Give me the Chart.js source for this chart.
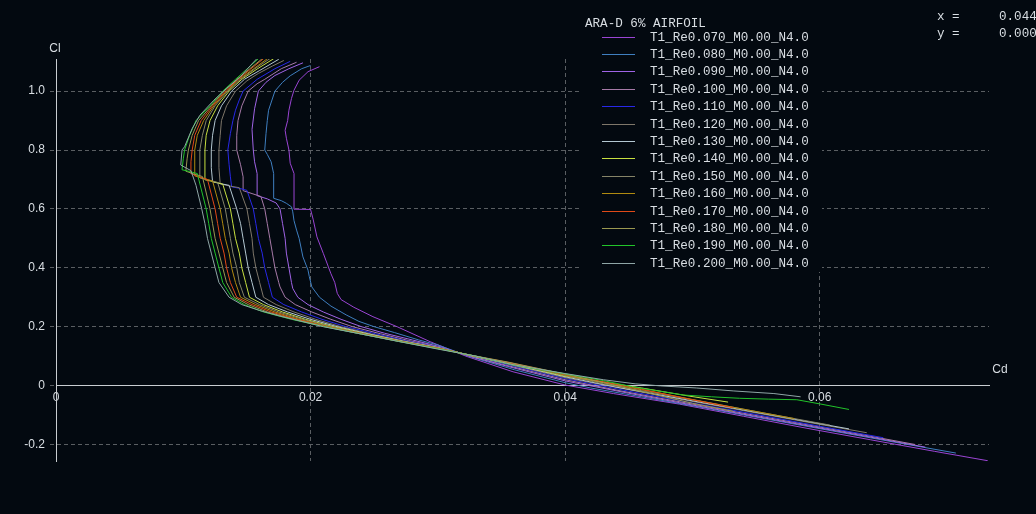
<!DOCTYPE html>
<html>
<head>
<meta charset="utf-8">
<script src="https://cdn.jsdelivr.net/npm/chart.js@4.4.1/dist/chart.umd.min.js"></script>
<style>
  html, body { margin: 0; padding: 0; background: #030910; }
  canvas { display: block; }
</style>
</head>
<body>
<canvas id="polar" width="1036" height="514"></canvas>
<script>
// ARA-D 6% airfoil, Cl versus Cd polars for a range of Reynolds numbers (millions)
const reynolds = ['0.070', '0.080', '0.090', '0.100', '0.110', '0.120', '0.130',
                  '0.140', '0.150', '0.160', '0.170', '0.180', '0.190', '0.200'];
const seriesLabels = reynolds.map(r => 'T1_Re' + r + '_M0.00_N4.0');
const seriesColors = ['#9b45d4', '#3f7fc0', '#a064e6', '#a77aa8', '#2828e8', '#7f776a', '#b4c8d2',
                      '#c8e040', '#868468', '#b08a10', '#e04a18', '#9a9850', '#22c42a', '#8fa6a6'];

const cdTicks = [0, 0.02, 0.04, 0.06];
const clTicks = [-0.2, 0, 0.2, 0.4, 0.6, 0.8, 1.0];

// each polar: [Cd, Cl] from the most negative angle of attack upwards
const polarRe070 = [[0.0732,-0.255],[0.0690,-0.223],[0.0640,-0.184],[0.0590,-0.145],[0.0540,-0.104],[0.0490,-0.063],[0.0438,-0.027],[0.0400,0.002],[0.0359,0.047],[0.0322,0.100],[0.0294,0.149],[0.0268,0.200],[0.0249,0.234],[0.0234,0.266],[0.0224,0.292],[0.0221,0.313],[0.0219,0.350],[0.0216,0.380],[0.0214,0.403],[0.0210,0.449],[0.0205,0.505],[0.0202,0.565],[0.0200,0.598],[0.0187,0.599],[0.0187,0.660],[0.0187,0.720],[0.0184,0.755],[0.0183,0.800],[0.0181,0.840],[0.0180,0.867],[0.0182,0.900],[0.0183,0.935],[0.0185,0.975],[0.0187,1.003],[0.0191,1.037],[0.0198,1.066],[0.0207,1.083]];
const polarRe080 = [[0.0707,-0.229],[0.0660,-0.193],[0.0610,-0.154],[0.0560,-0.115],[0.0510,-0.076],[0.0460,-0.038],[0.0420,-0.008],[0.0400,0.010],[0.0360,0.054],[0.0324,0.100],[0.0300,0.138],[0.0285,0.155],[0.0266,0.180],[0.0250,0.200],[0.0238,0.218],[0.0228,0.240],[0.0216,0.270],[0.0207,0.300],[0.0201,0.335],[0.0199,0.370],[0.0198,0.392],[0.0194,0.437],[0.0191,0.500],[0.0189,0.528],[0.0187,0.560],[0.0186,0.590],[0.0185,0.607],[0.0181,0.619],[0.0177,0.628],[0.0171,0.636],[0.0171,0.680],[0.0171,0.720],[0.0169,0.760],[0.0166,0.785],[0.0164,0.800],[0.0165,0.856],[0.0166,0.900],[0.0167,0.935],[0.0172,1.000],[0.0178,1.030],[0.0184,1.052],[0.0193,1.076],[0.0200,1.087]];
const polarRe090 = [[0.0683,-0.209],[0.0640,-0.175],[0.0590,-0.136],[0.0540,-0.097],[0.0490,-0.058],[0.0450,-0.026],[0.0400,0.016],[0.0355,0.065],[0.0325,0.100],[0.0300,0.134],[0.0280,0.155],[0.0258,0.178],[0.0240,0.200],[0.0224,0.225],[0.0210,0.250],[0.0198,0.275],[0.0190,0.300],[0.0186,0.330],[0.0185,0.350],[0.0183,0.400],[0.0181,0.450],[0.0180,0.500],[0.0178,0.550],[0.0176,0.600],[0.0173,0.620],[0.0166,0.634],[0.0158,0.645],[0.0158,0.680],[0.0158,0.720],[0.0156,0.760],[0.0155,0.800],[0.0154,0.870],[0.0156,0.940],[0.0159,1.000],[0.0165,1.030],[0.0172,1.053],[0.0183,1.076],[0.0194,1.096]];
const polarRe100 = [[0.0675,-0.200],[0.0630,-0.164],[0.0580,-0.125],[0.0530,-0.086],[0.0480,-0.047],[0.0440,-0.015],[0.0400,0.020],[0.0355,0.068],[0.0326,0.100],[0.0300,0.132],[0.0277,0.153],[0.0255,0.176],[0.0233,0.200],[0.0216,0.225],[0.0201,0.250],[0.0188,0.275],[0.0180,0.300],[0.0176,0.335],[0.0175,0.350],[0.0172,0.400],[0.0170,0.450],[0.0168,0.500],[0.0166,0.550],[0.0164,0.600],[0.0161,0.642],[0.0154,0.652],[0.0147,0.662],[0.0147,0.709],[0.0145,0.750],[0.0142,0.800],[0.0142,0.850],[0.0143,0.900],[0.0146,0.950],[0.0151,1.000],[0.0158,1.025],[0.0164,1.040],[0.0177,1.076],[0.0189,1.098]];
const polarRe110 = [[0.0650,-0.177],[0.0600,-0.138],[0.0550,-0.098],[0.0500,-0.059],[0.0450,-0.019],[0.0400,0.024],[0.0355,0.071],[0.0327,0.100],[0.0300,0.131],[0.0275,0.152],[0.0251,0.176],[0.0228,0.200],[0.0209,0.225],[0.0193,0.250],[0.0179,0.275],[0.0170,0.300],[0.0167,0.350],[0.0164,0.400],[0.0162,0.450],[0.0159,0.500],[0.0157,0.550],[0.0155,0.600],[0.0150,0.663],[0.0144,0.670],[0.0138,0.675],[0.0137,0.709],[0.0136,0.750],[0.0135,0.800],[0.0137,0.856],[0.0139,0.900],[0.0141,0.935],[0.0144,0.970],[0.0147,1.000],[0.0158,1.040],[0.0172,1.076],[0.0184,1.101]];
const polarRe120 = [[0.0637,-0.160],[0.0590,-0.124],[0.0540,-0.085],[0.0490,-0.046],[0.0450,-0.014],[0.0400,0.027],[0.0355,0.073],[0.0327,0.100],[0.0300,0.130],[0.0274,0.151],[0.0248,0.175],[0.0224,0.200],[0.0204,0.225],[0.0187,0.250],[0.0173,0.275],[0.0163,0.300],[0.0160,0.350],[0.0157,0.400],[0.0155,0.450],[0.0154,0.500],[0.0152,0.550],[0.0150,0.600],[0.0144,0.672],[0.0136,0.678],[0.0129,0.685],[0.0128,0.740],[0.0128,0.800],[0.0129,0.850],[0.0130,0.900],[0.0134,0.950],[0.0141,1.000],[0.0150,1.035],[0.0159,1.060],[0.0170,1.085],[0.0179,1.104]];
const polarRe130 = [[0.0623,-0.147],[0.0580,-0.114],[0.0530,-0.075],[0.0480,-0.036],[0.0440,-0.005],[0.0400,0.030],[0.0355,0.075],[0.0328,0.100],[0.0300,0.129],[0.0273,0.150],[0.0246,0.175],[0.0221,0.200],[0.0200,0.225],[0.0182,0.250],[0.0167,0.275],[0.0157,0.300],[0.0154,0.350],[0.0151,0.400],[0.0149,0.450],[0.0147,0.500],[0.0145,0.550],[0.0142,0.600],[0.0136,0.680],[0.0129,0.686],[0.0123,0.692],[0.0122,0.740],[0.0122,0.800],[0.0123,0.850],[0.0125,0.900],[0.0130,0.950],[0.0138,1.000],[0.0148,1.040],[0.0160,1.070],[0.0175,1.108]];
const polarRe140 = [[0.0528,-0.056],[0.0498,-0.036],[0.0460,-0.008],[0.0430,0.012],[0.0400,0.032],[0.0355,0.076],[0.0328,0.100],[0.0300,0.128],[0.0272,0.150],[0.0244,0.175],[0.0218,0.200],[0.0196,0.225],[0.0178,0.250],[0.0163,0.275],[0.0152,0.300],[0.0149,0.350],[0.0146,0.400],[0.0144,0.450],[0.0141,0.500],[0.0139,0.550],[0.0137,0.600],[0.0131,0.684],[0.0124,0.692],[0.0117,0.699],[0.0117,0.750],[0.0117,0.800],[0.0118,0.850],[0.0121,0.900],[0.0127,0.950],[0.0136,1.000],[0.0146,1.040],[0.0158,1.075],[0.0171,1.110]];
const polarRe150 = [[0.0608,-0.134],[0.0570,-0.104],[0.0520,-0.064],[0.0470,-0.025],[0.0430,0.006],[0.0400,0.034],[0.0355,0.077],[0.0329,0.100],[0.0300,0.128],[0.0271,0.150],[0.0243,0.175],[0.0216,0.200],[0.0194,0.225],[0.0175,0.250],[0.0160,0.275],[0.0148,0.300],[0.0144,0.350],[0.0142,0.400],[0.0139,0.450],[0.0137,0.500],[0.0135,0.550],[0.0133,0.600],[0.0127,0.690],[0.0120,0.698],[0.0113,0.705],[0.0113,0.750],[0.0113,0.800],[0.0115,0.850],[0.0118,0.900],[0.0125,0.950],[0.0135,1.000],[0.0145,1.040],[0.0156,1.075],[0.0168,1.110]];
const polarRe160 = [[0.0580,-0.112],[0.0540,-0.080],[0.0500,-0.047],[0.0460,-0.014],[0.0430,0.010],[0.0400,0.036],[0.0355,0.078],[0.0329,0.100],[0.0300,0.127],[0.0271,0.150],[0.0242,0.175],[0.0214,0.200],[0.0191,0.225],[0.0172,0.250],[0.0157,0.275],[0.0145,0.300],[0.0141,0.350],[0.0138,0.400],[0.0136,0.450],[0.0133,0.500],[0.0131,0.550],[0.0129,0.600],[0.0123,0.695],[0.0116,0.703],[0.0109,0.712],[0.0109,0.760],[0.0109,0.800],[0.0111,0.850],[0.0116,0.900],[0.0124,0.950],[0.0134,1.000],[0.0144,1.040],[0.0155,1.075],[0.0166,1.110]];
const polarRe170 = [[0.0532,-0.075],[0.0500,-0.048],[0.0460,-0.012],[0.0430,0.013],[0.0400,0.038],[0.0355,0.079],[0.0329,0.100],[0.0300,0.127],[0.0270,0.150],[0.0241,0.175],[0.0213,0.200],[0.0189,0.225],[0.0169,0.250],[0.0154,0.275],[0.0142,0.300],[0.0137,0.350],[0.0134,0.400],[0.0132,0.450],[0.0129,0.500],[0.0127,0.550],[0.0125,0.600],[0.0119,0.700],[0.0112,0.710],[0.0106,0.720],[0.0106,0.760],[0.0107,0.800],[0.0109,0.850],[0.0114,0.900],[0.0123,0.950],[0.0133,1.000],[0.0143,1.040],[0.0153,1.075],[0.0163,1.110]];
const polarRe180 = [[0.0532,-0.087],[0.0500,-0.060],[0.0460,-0.020],[0.0430,0.010],[0.0400,0.039],[0.0355,0.080],[0.0330,0.100],[0.0300,0.126],[0.0270,0.150],[0.0240,0.175],[0.0212,0.200],[0.0187,0.225],[0.0166,0.250],[0.0151,0.275],[0.0140,0.300],[0.0134,0.350],[0.0131,0.400],[0.0128,0.450],[0.0125,0.500],[0.0123,0.550],[0.0121,0.600],[0.0115,0.710],[0.0108,0.719],[0.0102,0.728],[0.0103,0.770],[0.0104,0.800],[0.0107,0.850],[0.0112,0.900],[0.0122,0.950],[0.0132,1.000],[0.0142,1.040],[0.0152,1.075],[0.0162,1.110]];
const polarRe190 = [[0.0623,-0.081],[0.0600,-0.062],[0.0582,-0.048],[0.0560,-0.046],[0.0537,-0.043],[0.0515,-0.038],[0.0493,-0.032],[0.0470,-0.016],[0.0453,-0.004],[0.0430,0.017],[0.0400,0.040],[0.0359,0.070],[0.0330,0.100],[0.0300,0.125],[0.0269,0.150],[0.0240,0.175],[0.0211,0.200],[0.0185,0.225],[0.0163,0.250],[0.0148,0.275],[0.0138,0.300],[0.0131,0.350],[0.0128,0.400],[0.0125,0.450],[0.0122,0.500],[0.0120,0.550],[0.0118,0.600],[0.0111,0.720],[0.0105,0.727],[0.0099,0.733],[0.0100,0.770],[0.0101,0.800],[0.0105,0.850],[0.0110,0.900],[0.0121,0.950],[0.0131,1.000],[0.0141,1.040],[0.0150,1.075],[0.0159,1.110]];
const polarRe200 = [[0.0585,-0.038],[0.0564,-0.027],[0.0532,-0.018],[0.0503,-0.008],[0.0475,-0.001],[0.0455,0.006],[0.0430,0.020],[0.0400,0.041],[0.0359,0.071],[0.0330,0.100],[0.0300,0.124],[0.0269,0.150],[0.0240,0.175],[0.0210,0.200],[0.0176,0.236],[0.0160,0.255],[0.0146,0.275],[0.0136,0.300],[0.0128,0.350],[0.0125,0.400],[0.0122,0.450],[0.0119,0.500],[0.0117,0.550],[0.01145,0.600],[0.0110,0.680],[0.0106,0.730],[0.0098,0.749],[0.0099,0.800],[0.0101,0.811],[0.0107,0.873],[0.0113,0.918],[0.0124,0.969],[0.0134,1.009],[0.0145,1.049],[0.0153,1.088],[0.0158,1.111]];

const polars = [polarRe070, polarRe080, polarRe090, polarRe100, polarRe110, polarRe120, polarRe130,
                polarRe140, polarRe150, polarRe160, polarRe170, polarRe180, polarRe190, polarRe200];

const pageColor = '#030910';
const gridColor = '#5a5e62';
const axisColor = '#c9cdd1';
const textColor = '#d9dee3';
const tickFont = { family: '"Liberation Sans", Arial, sans-serif', size: 12 };
const monoFont = '12.6px "Liberation Mono", "DejaVu Sans Mono", monospace';

const isZero = v => Math.abs(v) < 1e-9;

// axis names, legend box and cursor readout drawn on top of the plot
const annotations = {
  id: 'annotations',
  afterDraw(chart) {
    const ctx = chart.ctx;
    ctx.save();
    ctx.fillStyle = textColor;
    ctx.font = '12px "Liberation Sans", Arial, sans-serif';
    ctx.textAlign = 'center';
    ctx.textBaseline = 'middle';
    ctx.fillText('Cl', 55, 49);
    ctx.fillText('Cd', 1000, 370);

    // opaque legend panel
    ctx.fillStyle = pageColor;
    ctx.fillRect(580, 12, 242, 260);

    ctx.fillStyle = textColor;
    ctx.font = monoFont;
    ctx.textAlign = 'left';
    ctx.fillText('ARA-D 6% AIRFOIL', 585, 24);
    chart.data.datasets.forEach((ds, i) => {
      const y = Math.round(36.7 + i * 17.38) + 0.5;
      ctx.strokeStyle = ds.borderColor;
      ctx.lineWidth = 1;
      ctx.beginPath();
      ctx.moveTo(602, y);
      ctx.lineTo(635, y);
      ctx.stroke();
      ctx.fillText(ds.label, 650, y);
    });

    ctx.fillText('x =', 937, 16.5);
    ctx.fillText('0.044', 999, 16.5);
    ctx.fillText('y =', 937, 34);
    ctx.fillText('0.000', 999, 34);
    ctx.restore();
  }
};

new Chart(document.getElementById('polar'), {
  type: 'scatter',
  data: {
    datasets: polars.map((pts, i) => ({
      label: seriesLabels[i],
      data: pts.map(([cd, cl]) => ({ x: cd, y: cl })),
      borderColor: seriesColors[i],
      backgroundColor: seriesColors[i],
      borderWidth: 1,
      showLine: true,
      pointRadius: 0,
      tension: 0,
      fill: false,
      order: polars.length - i
    }))
  },
  options: {
    responsive: false,
    animation: false,
    devicePixelRatio: 1,
    events: [],
    layout: { padding: { left: 0, right: 47, top: 59, bottom: 53 } },
    plugins: { legend: { display: false }, tooltip: { enabled: false } },
    scales: {
      x: {
        type: 'linear',
        min: 0,
        max: 0.0733,
        position: { y: 0 },
        afterFit: s => { s.height = 0; },
        afterBuildTicks: s => { s.ticks = cdTicks.map(v => ({ value: v })); },
        grid: {
          color: c => (c.tick && isZero(c.tick.value)) ? 'rgba(0,0,0,0)' : gridColor,
          lineWidth: 1,
          drawTicks: false
        },
        border: { display: true, color: axisColor, width: 1, dash: [4, 3] },
        ticks: {
          color: textColor,
          padding: 5,
          maxRotation: 0,
          font: tickFont,
          callback: v => isZero(v) ? '0' : v.toFixed(2)
        }
      },
      y: {
        type: 'linear',
        min: -0.256,
        max: 1.109,
        position: 'left',
        afterFit: s => { s.width = 56; },
        afterBuildTicks: s => { s.ticks = clTicks.map(v => ({ value: v })); },
        grid: {
          color: c => (c.tick && isZero(c.tick.value)) ? 'rgba(0,0,0,0)' : gridColor,
          lineWidth: 1,
          drawTicks: true,
          tickLength: 6,
          tickColor: gridColor,
          tickBorderDash: [4, 3]
        },
        border: { display: true, color: axisColor, width: 1, dash: [4, 3] },
        ticks: {
          color: textColor,
          padding: 5,
          font: tickFont,
          callback: v => isZero(v) ? '0' : v.toFixed(1)
        }
      }
    }
  },
  plugins: [annotations]
});
</script>
</body>
</html>
